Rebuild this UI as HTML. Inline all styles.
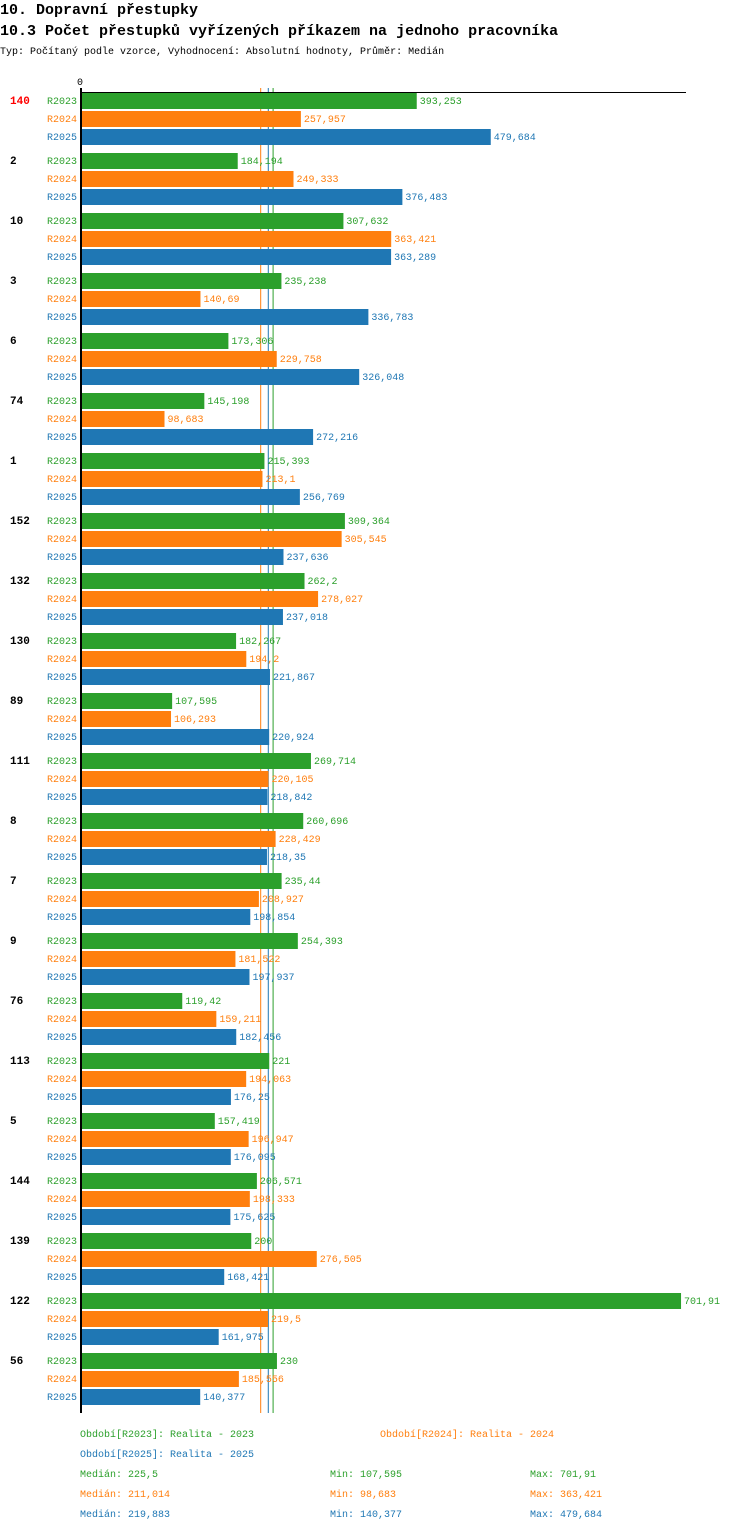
<!DOCTYPE html>
<html><head><meta charset="utf-8"><style>
body{margin:0;background:#fff;width:750px;height:1532px;overflow:hidden;font-family:"Liberation Mono",monospace}
svg text{font-family:"Liberation Mono",monospace}
</style></head><body>
<svg id="c" width="750" height="1532" xmlns="http://www.w3.org/2000/svg">
<text x="0" y="14" font-size="15" font-weight="bold" fill="#000">10. Dopravní přestupky</text>
<text x="0" y="35" font-size="15" font-weight="bold" fill="#000">10.3 Počet přestupků vyřízených příkazem na jednoho pracovníka</text>
<text x="0" y="54" font-size="10" fill="#000">Typ: Počítaný podle vzorce, Vyhodnocení: Absolutní hodnoty, Průměr: Medián</text>
<text x="77" y="85" font-size="10" fill="#000">0</text>
<g id="med"></g>
<g id="bars"></g>
<line x1="80" y1="92.5" x2="686" y2="92.5" stroke="#000" stroke-width="1"/>
<line x1="81" y1="88" x2="81" y2="1413" stroke="#000" stroke-width="2"/>
<g font-size="10">
<text x="80" y="1437" fill="#2ca02c">Období[R2023]: Realita - 2023</text>
<text x="380" y="1437" fill="#ff7f0e">Období[R2024]: Realita - 2024</text>
<text x="80" y="1457" fill="#1f77b4">Období[R2025]: Realita - 2025</text>
<text x="80" y="1477" fill="#2ca02c">Medián: 225,5</text>
<text x="330" y="1477" fill="#2ca02c">Min: 107,595</text>
<text x="530" y="1477" fill="#2ca02c">Max: 701,91</text>
<text x="80" y="1497" fill="#ff7f0e">Medián: 211,014</text>
<text x="330" y="1497" fill="#ff7f0e">Min: 98,683</text>
<text x="530" y="1497" fill="#ff7f0e">Max: 363,421</text>
<text x="80" y="1517" fill="#1f77b4">Medián: 219,883</text>
<text x="330" y="1517" fill="#1f77b4">Min: 140,377</text>
<text x="530" y="1517" fill="#1f77b4">Max: 479,684</text>
</g>
</svg>
<script>
const categories=["140","2","10","3","6","74","1","152","132","130","89","111","8","7","9","76","113","5","144","139","122","56"];
const r2023=[393.253,184.194,307.632,235.238,173.306,145.198,215.393,309.364,262.2,182.267,107.595,269.714,260.696,235.44,254.393,119.42,221,157.419,206.571,200,701.91,230];
const r2024=[257.957,249.333,363.421,140.69,229.758,98.683,213.1,305.545,278.027,194.2,106.293,220.105,228.429,208.927,181.522,159.211,194.063,196.947,198.333,276.505,219.5,185.556];
const r2025=[479.684,376.483,363.289,336.783,326.048,272.216,256.769,237.636,237.018,221.867,220.924,218.842,218.35,198.854,197.937,182.456,176.25,176.095,175.625,168.421,161.975,140.377];
const seriesNames=["R2023","R2024","R2025"];
const medians=[225.5,211.014,219.883];
const colors=["#2ca02c","#ff7f0e","#1f77b4"];
const NS="http://www.w3.org/2000/svg";
const x=v=>80+v*0.8563;
const fmt=v=>String(v).replace('.',',');
const g=document.getElementById('bars');
function mk(t,a){const e=document.createElementNS(NS,t);for(const k in a)e.setAttribute(k,a[k]);return e;}
const series=[r2023,r2024,r2025];
categories.forEach((c,i)=>{
  const y0=92+60*i;
  const cl=mk('text',{x:10,y:y0+12,'font-size':11,'font-weight':'bold',fill:i===0?'#ff0000':'#000'});
  cl.textContent=c;
  
  
  g.appendChild(cl);
  series.forEach((s,j)=>{
    const by=y0+1+18*j;
    const lb=mk('text',{x:47,y:by+11,'font-size':10,fill:colors[j]});
    lb.textContent=seriesNames[j];
    
    
    g.appendChild(lb);
    const r=mk('rect',{x:82,y:by,width:x(s[i])-82,height:16,fill:colors[j]});
    
    
    g.appendChild(r);
    const vt=mk('text',{x:x(s[i])+3,y:by+11,'font-size':10,fill:colors[j]});
    vt.textContent=fmt(s[i]);
    
    
    g.appendChild(vt);
  });
});
const m=document.getElementById('med');
medians.forEach((v,j)=>{
  const l=mk('line',{x1:x(v),x2:x(v),y1:88,y2:1413,stroke:colors[j],'stroke-width':1});
  
  
  m.appendChild(l);
});
</script>
</body></html>
